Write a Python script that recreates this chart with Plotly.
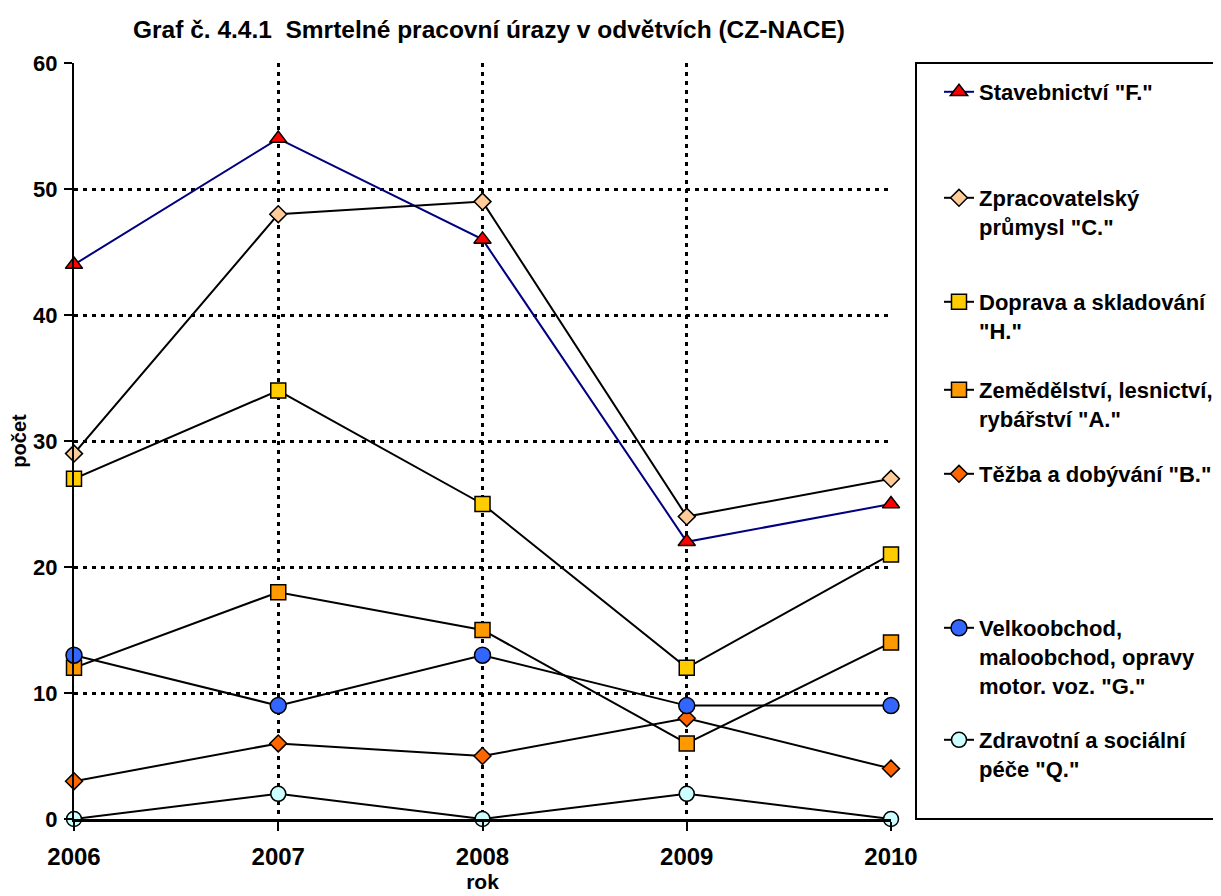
import plotly.graph_objects as go

years = [2006, 2007, 2008, 2009, 2010]
year_labels = ["2006", "2007", "2008", "2009", "2010"]

stavebnictvi_F = [44, 54, 46, 22, 25]
zpracovatelsky_C = [29, 48, 49, 24, 27]
doprava_H = [27, 34, 25, 12, 21]
zemedelstvi_A = [12, 18, 15, 6, 14]
tezba_B = [3, 6, 5, 8, 4]
velkoobchod_G = [13, 9, 13, 9, 9]
zdravotni_Q = [0, 2, 0, 2, 0]

series_names = [
    'Stavebnictví "F."',
    'Zpracovatelský<br>průmysl "C."',
    'Doprava a skladování<br>"H."',
    'Zemědělství, lesnictví,<br>rybářství "A."',
    'Těžba a dobývání "B."',
    'Velkoobchod,<br>maloobchod, opravy<br>motor. voz. "G."',
    'Zdravotní a sociální<br>péče "Q."',
]
series_values = [stavebnictvi_F, zpracovatelsky_C, doprava_H, zemedelstvi_A,
                 tezba_B, velkoobchod_G, zdravotni_Q]

styles = [
    dict(line="#000080", fill="#FF0000", symbol="triangle-up", size=15),
    dict(line="#000000", fill="#FFCC99", symbol="diamond", size=13),
    dict(line="#000000", fill="#FFCC00", symbol="square", size=15),
    dict(line="#000000", fill="#FF9900", symbol="square", size=15),
    dict(line="#000000", fill="#FF6600", symbol="diamond", size=13),
    dict(line="#000000", fill="#3366FF", symbol="circle", size=16),
    dict(line="#000000", fill="#CCFFFF", symbol="circle", size=15),
]

# page is offset by the browser's 8px body margin
OFF = 8
# legend first-line centres (screen pixels)
legend_px_y = [94, 200, 304, 392, 476, 630, 742]

W, H = 1221 - OFF, 896 - OFF
L, T = 74 - OFF, 63 - OFF
R = W - (891 - OFF)
B = H - (819 - OFF)
pw = W - L - R
ph = H - T - B

fig = go.Figure()
for i, (name, vals, st) in enumerate(zip(series_names, series_values, styles)):
    lg = "legend" if i == 0 else f"legend{i+1}"
    fig.add_trace(go.Scatter(
        x=years, y=vals, name=name, mode="lines+markers",
        line=dict(color=st["line"], width=2),
        marker=dict(symbol=st["symbol"], size=st["size"], color=st["fill"],
                    line=dict(color="#000000", width=1.5)),
        cliponaxis=False, legend=lg, showlegend=True,
    ))

font_family = "Liberation Sans, Arial, sans-serif"
legend_layouts = {}
for i, py in enumerate(legend_px_y):
    key = "legend" if i == 0 else f"legend{i+1}"
    legend_layouts[key] = dict(
        x=(939 - OFF - L) / pw, xanchor="left",
        y=(H - B - (py - OFF - 23)) / ph, yanchor="top",
        bgcolor="rgba(0,0,0,0)", borderwidth=0,
        font=dict(family=font_family, size=22, color="#000000", weight="bold"),
        valign="top", itemclick=False, itemdoubleclick=False,
    )

fig.update_layout(
    width=W, height=H,
    margin=dict(l=L, r=R, t=T, b=B, autoexpand=False),
    paper_bgcolor="white", plot_bgcolor="white",
    showlegend=True,
    font=dict(family=font_family, color="#000000"),
    title=dict(
        text="Graf č. 4.4.1  Smrtelné pracovní úrazy v odvětvích (CZ-NACE)",
        x=(489 - OFF) / W, xanchor="center",
        y=1 - (29 - OFF) / H, yanchor="middle", yref="container",
        font=dict(family=font_family, size=24.5, color="#000000", weight="bold"),
    ),
    xaxis=dict(
        range=[2006, 2010], tickvals=years, ticktext=year_labels,
        showgrid=True, gridcolor="#000000", gridwidth=2.5, griddash="4px,5px",
        zeroline=False, showline=True, linecolor="#000000", linewidth=3,
        ticks="outside", ticklen=9, tickwidth=2, tickcolor="#000000",
        ticklabelstandoff=5, automargin=False,
        tickfont=dict(family=font_family, size=24, weight="bold"),
        title=dict(text="rok", font=dict(family=font_family, size=21, weight="bold"),
                   standoff=6),
    ),
    yaxis=dict(
        range=[0, 60], dtick=10,
        showgrid=True, gridcolor="#000000", gridwidth=2.5, griddash="4px,5px",
        zeroline=False, showline=True, linecolor="#000000", linewidth=2,
        ticks="outside", ticklen=8, tickwidth=2, tickcolor="#000000",
        ticklabelstandoff=2, automargin=False,
        tickfont=dict(family=font_family, size=22, weight="bold"),
        title=dict(text="počet", font=dict(family=font_family, size=20, weight="bold"),
                   standoff=7),
    ),
    shapes=[dict(type="rect", xref="paper", yref="paper",
                 x0=(916 - OFF - L) / pw, x1=(1240 - OFF - L) / pw, y0=0, y1=1,
                 line=dict(color="#000000", width=2), fillcolor="rgba(0,0,0,0)")],
    **legend_layouts,
)

fig.write_html("out.html")
